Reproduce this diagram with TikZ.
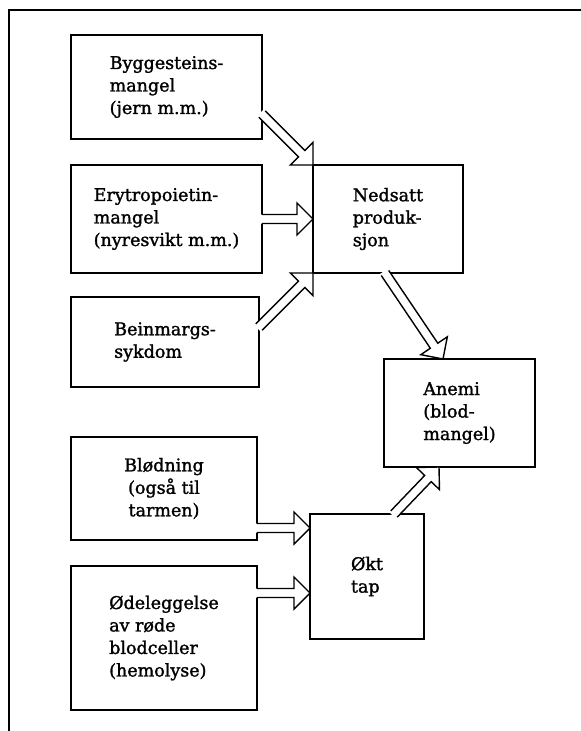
\documentclass[tikz,border=0pt]{standalone}
\usepackage{fontspec}
\setmainfont{DejaVu Serif}[FakeBold=1.5]
\usepackage{tikz}
\usetikzlibrary{
    positioning,
    calc
}
\tikzset{
    % Plain outlined box
    anbox/.style={
        rectangle,
        draw=black,
        line width=1.7pt,
        text=black,
        font=\fontsize{17.5}{22.5}\selectfont,
        align=left,
        inner sep=0pt,
        outer sep=0pt
    },
    % Hollow block arrow outline
    anarrow/.style={
        draw=black,
        line width=1.4pt,
        line join=miter
    },
    % Page frame
    anframe/.style={
        draw=black,
        line width=1.8pt
    }
}
% Hollow block arrow from #1 (tail) to #2 (tip)
\newcommand{\hollowarrow}[2]{%
    \coordinate (ha-s) at (#1);
    \coordinate (ha-t) at (#2);
    \coordinate (ha-b) at ($(ha-t)!16pt!(ha-s)$);
    \coordinate (ha-e) at ($(ha-s)!-2pt!(ha-t)$);
    \fill[white] ($(ha-e)!4.5pt!90:(ha-t)$) -- ($(ha-b)!4.5pt!90:(ha-t)$)
        -- ($(ha-b)!16pt!90:(ha-t)$) -- (ha-t) -- ($(ha-b)!16pt!-90:(ha-t)$)
        -- ($(ha-b)!4.5pt!-90:(ha-t)$) -- ($(ha-e)!4.5pt!-90:(ha-t)$) -- cycle;
    \draw[anarrow] ($(ha-s)!4.5pt!90:(ha-t)$) -- ($(ha-b)!4.5pt!90:(ha-t)$)
        -- ($(ha-b)!16pt!90:(ha-t)$) -- (ha-t) -- ($(ha-b)!16pt!-90:(ha-t)$)
        -- ($(ha-b)!4.5pt!-90:(ha-t)$) -- ($(ha-s)!4.5pt!-90:(ha-t)$);
}

\begin{document}
\begin{tikzpicture}
    \useasboundingbox (0pt,0pt) rectangle (581pt,-731pt);
    \draw[anframe] (581pt,-10pt) -- (9pt,-10pt) -- (9pt,-731pt);

    % left column
    \node[anbox, minimum width=191pt, minimum height=104pt, anchor=north west] (byg) at (71pt,-35pt) {Byggesteins-\\mangel\\(jern m.m.)};
    \node[anbox, below=26pt of byg.south west, anchor=north west, minimum width=191pt, minimum height=108pt] (ery) {Erytropoietin-\\mangel\\(nyresvikt m.m.)};
    \node[anbox, below=24pt of ery.south west, anchor=north west, minimum width=188pt, minimum height=90pt] (bein) {Beinmargs-\\sykdom};
    \node[anbox, below=50pt of bein.south west, anchor=north west, minimum width=186pt, minimum height=103pt, align=center] (blod) {Blødning\\(også til\\tarmen)};
    \node[anbox, below=26pt of blod.south west, anchor=north west, minimum width=186pt, minimum height=144pt] (odel) {Ødeleggelse\\av røde\\blodceller\\(hemolyse)};

    % right column
    \node[anbox, right=51pt of ery, minimum width=150pt, minimum height=108pt] (ned) {Nedsatt\\produk-\\sjon};
    \node[anbox, below right=86pt and 71pt of ned.south west, minimum width=151pt, minimum height=108pt] (anemi) {Anemi\\(blod-\\mangel)};
    \node[anbox, below right=77pt and 53pt of blod.north east, minimum width=114pt, minimum height=125pt] (okt) {Økt\\tap};

    % arrow ends
    \coordinate (bygout) at ($(byg.south east)+(0,25pt)$);
    \coordinate (beinout) at ($(bein.north east)+(0,-30pt)$);
    \coordinate (nedout) at ($(ned.south)+(-3pt,0)$);
    \coordinate (anemiin) at ($(anemi.north west)+(59pt,0)$);
    \coordinate (oktout) at ($(okt.north east)+(-30pt,0)$);
    \coordinate (anemiin2) at ($(anemi.south west)+(55pt,0)$);
    \coordinate (blodout) at ($(blod.south east)+(0,12pt)$);
    \coordinate (oktin) at ($(okt.north west)+(0,-14pt)$);
    \coordinate (odelout) at ($(odel.north east)+(0,-27pt)$);
    \coordinate (oktin2) at ($(okt.north west)+(0,-79pt)$);

    \hollowarrow{bygout}{ned.north west}
    \hollowarrow{ery.east}{ned.west}
    \hollowarrow{beinout}{ned.south west}
    \hollowarrow{nedout}{anemiin}
    \hollowarrow{oktout}{anemiin2}
    \hollowarrow{blodout}{oktin}
    \hollowarrow{odelout}{oktin2}
\end{tikzpicture}
\end{document}
